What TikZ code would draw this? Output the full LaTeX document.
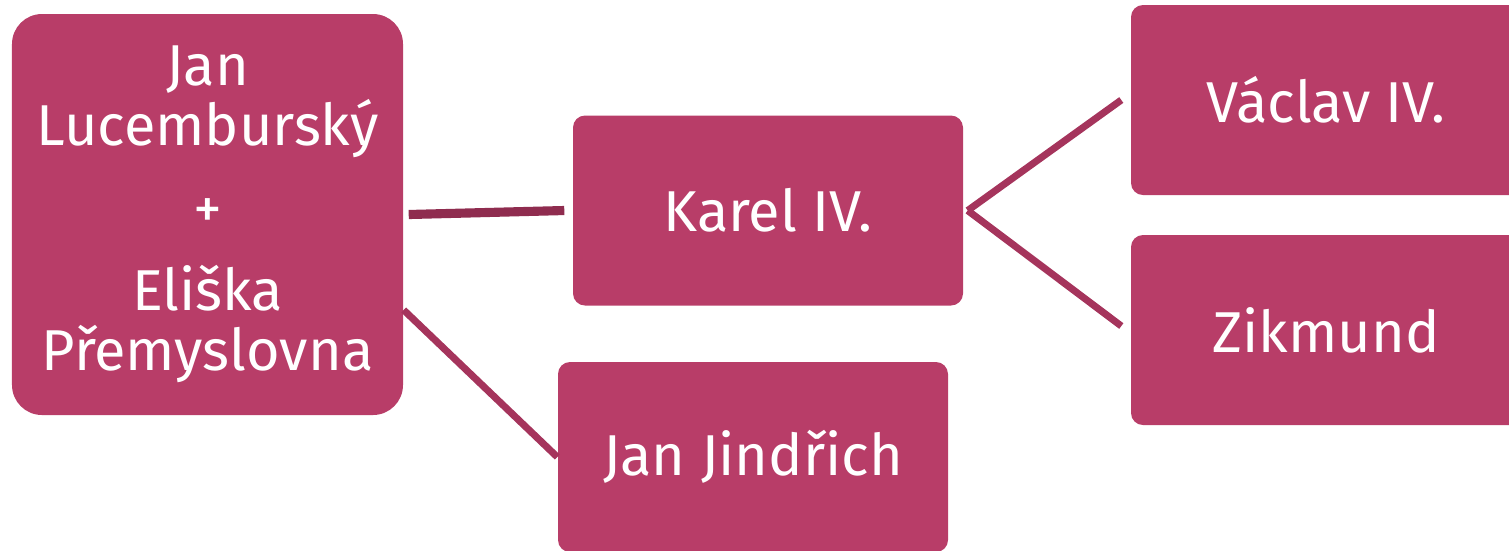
\documentclass[tikz,border=0pt]{standalone}
\usepackage{fontspec}
\setmainfont{Fira Sans}
\definecolor{boxred}{HTML}{B83D68}
\definecolor{linered}{HTML}{A5345C}
\definecolor{linedark}{HTML}{8F2C4F}
\begin{document}
\begin{tikzpicture}[
  person/.style={rectangle, fill=boxred, rounded corners=0.12cm, minimum width=3.9cm, minimum height=1.9cm, inner sep=0pt, text=white, font=\fontsize{16.4}{17}\selectfont},
  link/.style={draw=linered, line width=2pt}
]
  \useasboundingbox (0,0) rectangle (15.09,-5.50);
  \clip (0,0) rectangle (15.09,-5.50);
  % Nodes
  \node (parents) [person, rounded corners=0.3cm, minimum width=3.91cm, minimum height=4.01cm, align=center] at (2.075, -2.145) {Jan\\Lucemburský\\[6.5pt]+\\[6.5pt]Eliška\\Přemyslovna};
  \node (karel) [person] at (7.68, -2.105) {Karel IV.};
  \node (jindrich) [person] at (7.53, -4.57) {Jan Jindřich};
  \node (vaclav) [person] at (13.26, -1.00) {Václav IV.};
  \node (zikmund) [person] at (13.26, -3.30) {Zikmund};
  % Lines
  \draw[link, draw=linedark, line width=2.6pt] ([xshift=0.05cm]parents.east) -- ([xshift=-0.08cm]karel.west);
  \draw[link] ([yshift=-0.955cm]parents.east) -- (jindrich.west);
  \draw[link] ([xshift=0.04cm]karel.east) -- ([xshift=-0.09cm]vaclav.west);
  \draw[link] ([xshift=0.04cm]karel.east) -- ([xshift=-0.09cm, yshift=0.04cm]zikmund.west);
\end{tikzpicture}
\end{document}
